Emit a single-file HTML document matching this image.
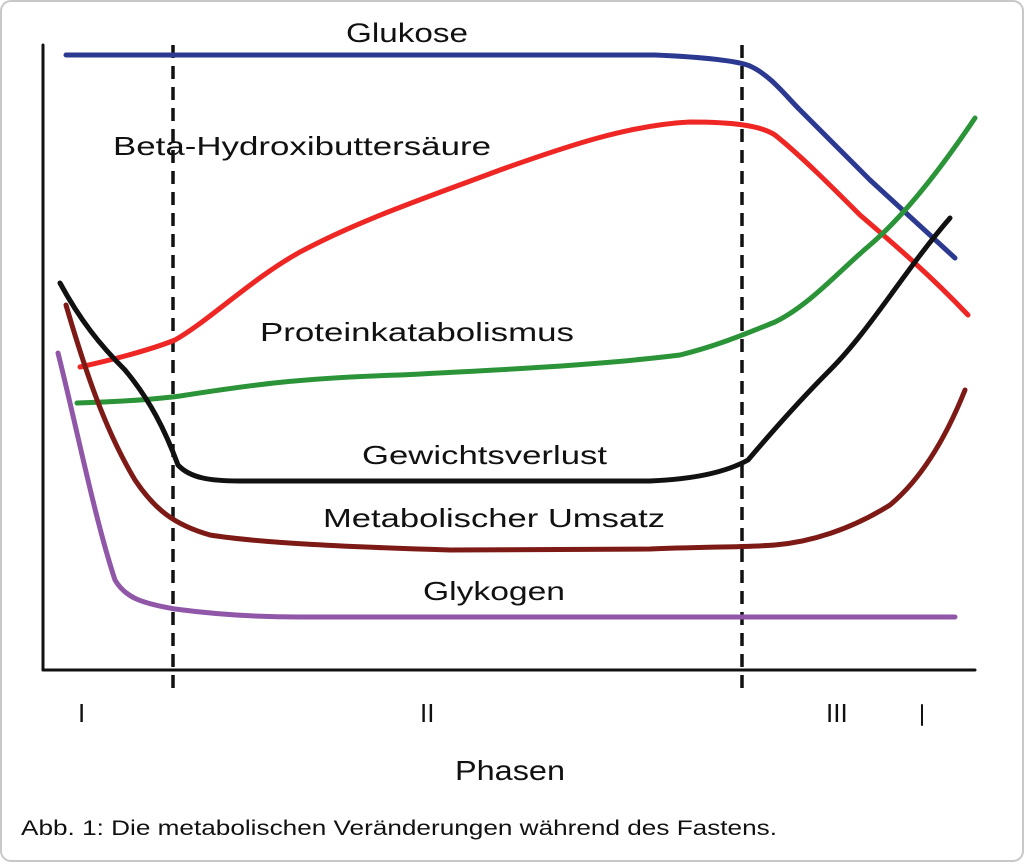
<!DOCTYPE html>
<html><head><meta charset="utf-8"><style>
html,body{margin:0;padding:0;background:#fff;}
svg{display:block;}
text{font-family:"Liberation Sans","DejaVu Sans",sans-serif;fill:#111;}
</style></head><body>
<svg width="1024" height="862" viewBox="0 0 1024 862" xmlns="http://www.w3.org/2000/svg">
<rect x="1" y="1" width="1022" height="860" rx="10" fill="#fff" stroke="#c8c8c8" stroke-width="2"/>
<g fill="none" stroke-linecap="round" stroke-linejoin="round">
<line x1="43" y1="45" x2="43" y2="670" stroke="#111" stroke-width="3"/>
<line x1="43" y1="670" x2="975" y2="670" stroke="#111" stroke-width="3"/>
<line x1="173" y1="45" x2="173" y2="690" stroke="#111" stroke-width="3.5" stroke-dasharray="13,8" stroke-linecap="butt"/>
<line x1="742" y1="45" x2="742" y2="690" stroke="#111" stroke-width="3.5" stroke-dasharray="13,8" stroke-linecap="butt"/>
<line x1="922" y1="705" x2="922" y2="725" stroke="#111" stroke-width="2"/>
<path d="M66,55 L655,55 C700,57 735,60 750,66 C770,75 785,95 800,110 L870,180 L955,258" stroke="#2b3990" stroke-width="5"/>
<path d="M80,367 C120,358 150,350 175,340 C210,320 250,280 300,252 C360,220 420,200 500,170 C570,145 630,125 690,122 C730,122 760,125 775,135 C800,155 830,185 860,215 C895,245 930,275 968,315" stroke="#ee2624" stroke-width="5"/>
<path d="M77,403 C110,402 150,400 180,396 C250,385 300,378 400,375 C500,370 600,365 680,355 C720,345 750,332 775,322 C810,305 840,270 870,245 C905,215 940,170 975,118" stroke="#2b9438" stroke-width="5"/>
<path d="M60,283 C80,320 100,345 125,370 C150,400 165,430 178,465 C190,478 210,481 240,481 L650,481 C700,479 730,470 748,460 C765,440 800,400 830,370 C870,330 905,270 950,218" stroke="#111" stroke-width="5"/>
<path d="M66,305 C85,370 105,430 135,480 C155,510 175,525 210,535 C260,543 350,547 450,550 L650,549 C700,547 750,547 775,545 C810,542 850,530 890,505 C920,480 945,440 965,390" stroke="#7d1a16" stroke-width="5"/>
<path d="M58,353 C75,420 95,520 115,580 C125,597 140,603 175,609 C220,615 260,617 300,617 L955,617" stroke="#9057a8" stroke-width="5"/>
</g>
<text x="346" y="42" font-size="27" textLength="122" lengthAdjust="spacingAndGlyphs">Glukose</text>
<text x="113" y="155" font-size="26" textLength="378" lengthAdjust="spacingAndGlyphs">Beta-Hydroxibuttersäure</text>
<text x="260" y="341" font-size="26" textLength="314" lengthAdjust="spacingAndGlyphs">Proteinkatabolismus</text>
<text x="362" y="464" font-size="26" textLength="245" lengthAdjust="spacingAndGlyphs">Gewichtsverlust</text>
<text x="323" y="527" font-size="26" textLength="342" lengthAdjust="spacingAndGlyphs">Metabolischer Umsatz</text>
<text x="423" y="600" font-size="26" textLength="142" lengthAdjust="spacingAndGlyphs">Glykogen</text>
<text x="78" y="722" font-size="26">I</text>
<text x="420" y="722" font-size="26">II</text>
<text x="826" y="722" font-size="26">III</text>
<text x="455" y="780" font-size="28" textLength="110" lengthAdjust="spacingAndGlyphs">Phasen</text>
<text x="21" y="835" font-size="21" textLength="756" lengthAdjust="spacingAndGlyphs">Abb. 1: Die metabolischen Veränderungen während des Fastens.</text>
</svg>
</body></html>
